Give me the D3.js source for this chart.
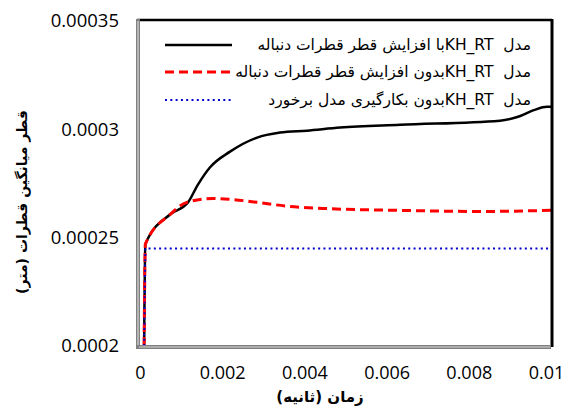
<!DOCTYPE html>
<html><head><meta charset="utf-8">
<script src="https://cdn.jsdelivr.net/npm/d3@7/dist/d3.min.js"></script>
<style>body{margin:0;background:#fff}svg{display:block}.pre{white-space:pre}</style>
</head><body>
<svg id="c" width="568" height="414"></svg>
<script>
const xTicks = [0, 0.002, 0.004, 0.006, 0.008, 0.01];
const xTickLabels = ["0", "0.002", "0.004", "0.006", "0.008", "0.01"];
const yTicks = [0.0002, 0.00025, 0.0003, 0.00035];
const yTickLabels = ["0.0002", "0.00025", "0.0003", "0.00035"];

const seriesNames = [
  "مدل  KH_RTبا افزایش قطر قطرات دنباله",
  "مدل  KH_RTبدون افزایش قطر قطرات دنباله",
  "مدل  KH_RTبدون بکارگیری مدل برخورد"
];
const blackT = [0.0001, 0.00013, 0.00073, 0.00117, 0.00141, 0.0017, 0.00219, 0.00285, 0.00341, 0.00406, 0.00487, 0.00633, 0.00876, 0.0092, 0.0096, 0.0099, 0.01];
const blackV = [0.0002, 0.000247, 0.0002607, 0.0002663, 0.0002745, 0.0002824, 0.0002897, 0.0002962, 0.0002985, 0.0002994, 0.0003008, 0.0003021, 0.000304, 0.0003058, 0.000309, 0.0003104, 0.0003104];
const redT = [0.0001, 0.00013, 0.00073, 0.00114, 0.00178, 0.00226, 0.00285, 0.00365, 0.00445, 0.00633, 0.00827, 0.01];
const redV = [0.0002, 0.000247, 0.0002607, 0.0002663, 0.0002681, 0.0002676, 0.0002663, 0.0002644, 0.0002635, 0.0002626, 0.0002621, 0.0002626];
const blueT = [0.0001, 0.00013, 0.01];
const blueV = [0.0002, 0.000245, 0.000245];

const svg = d3.select("#c");
const L = 139, R = 551, T = 21, B = 346;
const x = d3.scaleLinear().domain([0, 0.01]).range([L + 1, R]);
const y = d3.scaleLinear().domain([0.0002, 0.00035]).range([B, T]);

const numFont = "'Open Sans', sans-serif";
const xa = svg.append("g").attr("transform", `translate(0,${B})`)
  .call(d3.axisBottom(x).tickValues(xTicks).tickFormat((d,i)=>xTickLabels[i]).tickSize(0).tickPadding(20));
xa.select(".domain").remove();
xa.selectAll("text").attr("font-family", numFont).attr("font-size", 18).attr("fill", "#000")
  .attr("dx", (d,i)=> i === xTicks.length-1 ? -5 : 0);
const ya = svg.append("g").attr("transform", `translate(${L},0)`)
  .call(d3.axisLeft(y).tickValues(yTicks).tickFormat((d,i)=>yTickLabels[i]).tickSize(0).tickPadding(20));
ya.select(".domain").remove();
ya.selectAll("text").attr("font-family", numFont).attr("font-size", 18.5).attr("fill", "#000");

const line = d3.line().x(d=>x(d[0])).y(d=>y(d[1])).curve(d3.curveMonotoneX);
const mk = (t,v)=>t.map((ti,i)=>[ti, v[i]]);
svg.append("path").datum(mk(blackT, blackV)).attr("d", line).attr("fill","none").attr("stroke","#000").attr("stroke-width",2.5);
svg.append("path").datum(mk(redT, redV)).attr("d", line).attr("fill","none").attr("stroke","#ff0000").attr("stroke-width",3).attr("stroke-dasharray","9,5");
svg.append("path").datum(mk(blueT, blueV)).attr("d", d3.line().x(d=>x(d[0])).y(d=>y(d[1]))).attr("fill","none").attr("stroke","#0000cc").attr("stroke-width",2).attr("stroke-dasharray","2,3.3");

// frame
svg.append("line").attr("x1", L-2).attr("x2", R+1).attr("y1", T-1).attr("y2", T-1).attr("stroke","#000").attr("stroke-width",2.5);
svg.append("line").attr("x1", R+1).attr("x2", R+1).attr("y1", T-2).attr("y2", B+1).attr("stroke","#000").attr("stroke-width",3);
svg.append("line").attr("x1", L-1).attr("x2", L-1).attr("y1", T-2).attr("y2", B+1).attr("stroke","#808080").attr("stroke-width",4);
svg.append("line").attr("x1", L-1).attr("x2", L-1).attr("y1", T).attr("y2", B).attr("stroke","#d8d8d8").attr("stroke-width",1.2);
svg.append("line").attr("x1", L-3).attr("x2", R).attr("y1", B+1).attr("y2", B+1).attr("stroke","#808080").attr("stroke-width",4);
svg.append("line").attr("x1", L).attr("x2", R-1).attr("y1", B+1).attr("y2", B+1).attr("stroke","#d8d8d8").attr("stroke-width",1.2);

// legend
const legY = [45, 72, 100];
const styles = [
  {c:"#000", w:2.5, d:null},
  {c:"#ff0000", w:3, d:"9,5"},
  {c:"#0000cc", w:2, d:"2,3.3"}
];
seriesNames.forEach((n,i)=>{
  const g = svg.append("g");
  g.append("line").attr("x1",165).attr("x2",232).attr("y1",legY[i]).attr("y2",legY[i])
    .attr("stroke",styles[i].c).attr("stroke-width",styles[i].w).attr("stroke-dasharray",styles[i].d);
  g.append("text").attr("class","pre").attr("x",531).attr("y",legY[i]).attr("dy","0.3em")
    .attr("direction","rtl").attr("text-anchor","start")
    .attr("font-family","'DejaVu Sans', sans-serif").attr("font-size",15.5).attr("fill","#000").text(n);
});

svg.append("text").attr("x",320).attr("y",402).attr("text-anchor","middle").attr("direction","rtl")
  .attr("font-family","'DejaVu Sans', sans-serif").attr("font-weight","bold").attr("font-size",15).text("زمان (ثانیه)");
svg.append("text").attr("transform","translate(22,202) rotate(-90)").attr("text-anchor","middle").attr("direction","rtl").attr("dy","0.35em")
  .attr("font-family","'DejaVu Sans', sans-serif").attr("font-weight","bold").attr("font-size",14).text("قطر میانگین قطرات (متر)");
</script>
</body></html>
